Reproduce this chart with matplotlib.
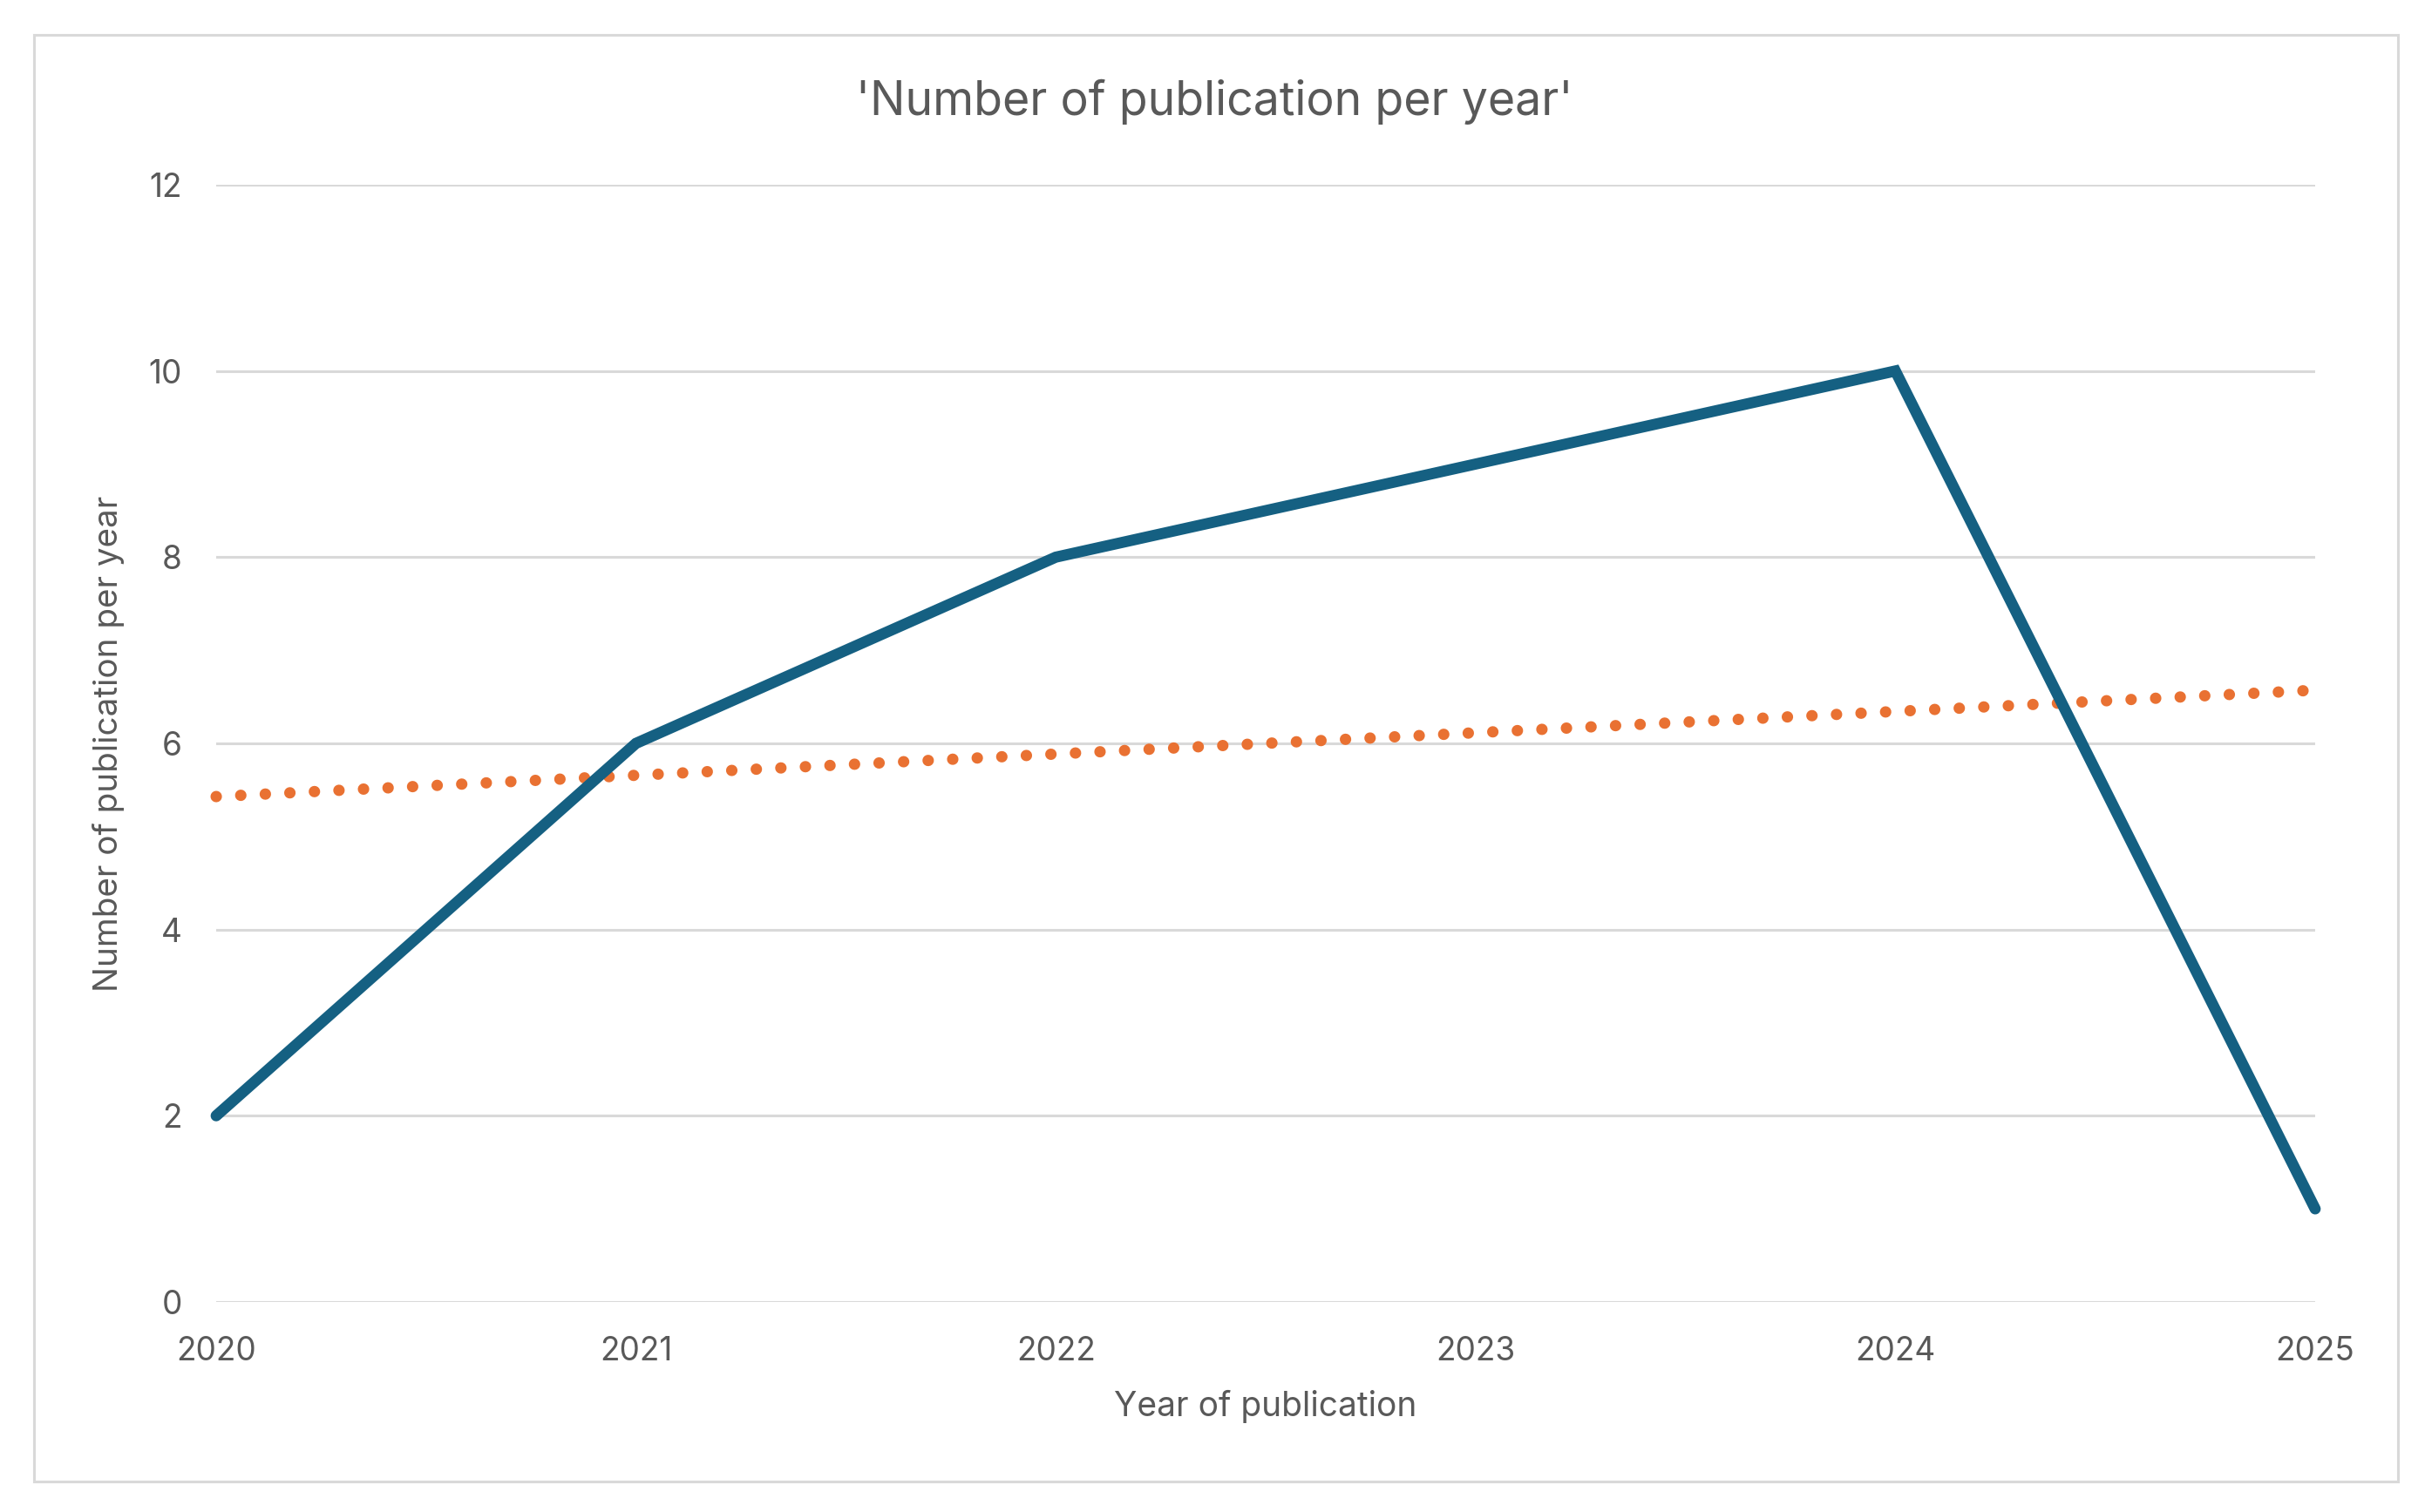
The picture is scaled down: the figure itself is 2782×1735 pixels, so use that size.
import numpy as np
import matplotlib
matplotlib.use("Agg")
import matplotlib.pyplot as plt
from matplotlib.patches import Rectangle

years = ["2020", "2021", "2022", "2023", "2024", "2025"]
publications = [2, 6, 8, 9, 10, 1]
y_ticks = [0, 2, 4, 6, 8, 10, 12]

title = "'Number of publication per year'"
xlabel = "Year of publication"
ylabel = "Number of publication per year"

TEXT = "#595959"
GRID = "#D9D9D9"
BLUE = "#156082"
ORANGE = "#E97132"

plt.rcParams['font.family'] = ['Inter', 'DejaVu Sans']

W, H, DPI = 2782, 1735, 200
fig = plt.figure(figsize=(W / DPI, H / DPI), dpi=DPI)
fig.patch.set_facecolor("white")

# outer chart frame
fig.patches.append(Rectangle((39 / W, 1 - 1700 / H), (2751 - 39) / W, (1700 - 40) / H,
                             transform=fig.transFigure, fill=False,
                             edgecolor=GRID, linewidth=1.1, zorder=0))

left, right = 248 / W, 2656 / W
bottom, top = 1 - 1494 / H, 1 - 212 / H
ax = fig.add_axes([left, bottom, right - left, top - bottom])

x = np.arange(len(years))
# linear trendline (least-squares fit of the series)
coef = np.polyfit(x, publications, 1)
trend = np.polyval(coef, x)

ax.plot(x, trend, color=ORANGE, linewidth=4.7, linestyle=(0, (0.01, 2.15)),
        dash_capstyle="round", zorder=3, clip_on=False)
ax.plot(x, publications, color=BLUE, linewidth=4.6, solid_capstyle="round",
        solid_joinstyle="miter", zorder=4, clip_on=False)

ax.set_xlim(0, len(years) - 1)
ax.set_ylim(0, 12)
ax.set_xticks(x)
ax.set_xticklabels(years)
ax.set_yticks(y_ticks)
ax.set_yticklabels([str(v) for v in y_ticks])

for s in ax.spines.values():
    s.set_visible(False)
ax.grid(axis="y", color=GRID, linewidth=1.1)
ax.set_axisbelow(True)
ax.tick_params(axis="both", length=0, labelsize=13.3, colors=TEXT, pad=14)
for lbl in ax.get_xticklabels() + ax.get_yticklabels():
    lbl.set_color(TEXT)

fig.text(1393 / W, 1 - 117 / H, title, ha="center", va="center",
         fontsize=19.3, color=TEXT)
fig.text(1452 / W, 1 - 1614 / H, xlabel, ha="center", va="center",
         fontsize=14, color=TEXT)
fig.text(125 / W, 1 - 853 / H, ylabel, ha="center", va="center",
         rotation=90, fontsize=13.9, color=TEXT)

fig.savefig("out.png", dpi=DPI, facecolor="white")
